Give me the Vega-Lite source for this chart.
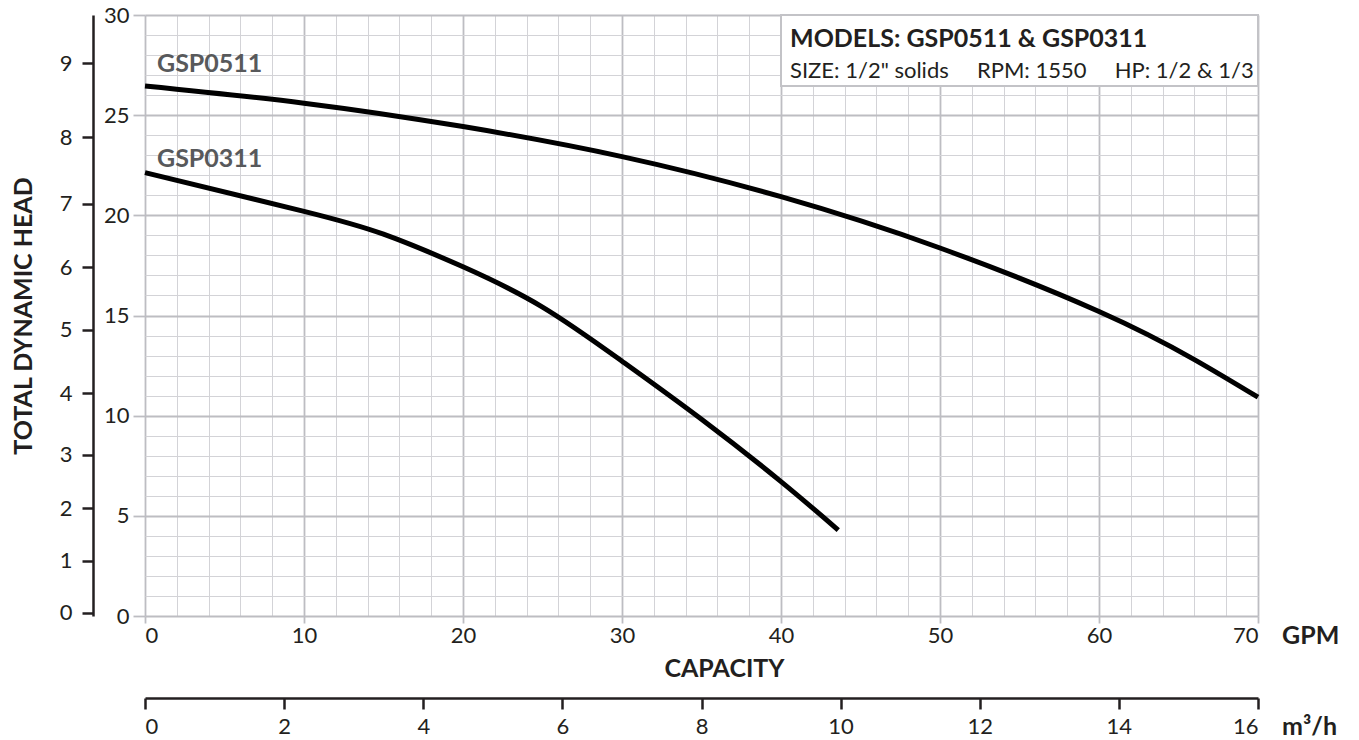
{
  "$schema": "https://vega.github.io/schema/vega-lite/v6.json",
  "width": 1113,
  "height": 601,
  "autosize": {"type": "none"},
  "padding": {"left": 145, "top": 15, "right": 101, "bottom": 124},
  "background": "white",
  "config": {"view": {"stroke": null}, "font": "Lato", "axis": {"labelFont": "Lato", "titleFont": "Lato"}, "text": {"font": "Lato"}},
  "datasets": {
    "curves": [
      {"model": "GSP0511", "gpm": 0, "ft": 26.46},
      {"model": "GSP0511", "gpm": 10, "ft": 25.6},
      {"model": "GSP0511", "gpm": 20, "ft": 24.43},
      {"model": "GSP0511", "gpm": 30, "ft": 22.93},
      {"model": "GSP0511", "gpm": 40, "ft": 20.93},
      {"model": "GSP0511", "gpm": 50, "ft": 18.37},
      {"model": "GSP0511", "gpm": 60, "ft": 15.2},
      {"model": "GSP0511", "gpm": 66, "ft": 12.8},
      {"model": "GSP0511", "gpm": 70, "ft": 10.92},
      {"model": "GSP0311", "gpm": 0, "ft": 22.13},
      {"model": "GSP0311", "gpm": 10, "ft": 20.2},
      {"model": "GSP0311", "gpm": 15, "ft": 19.06},
      {"model": "GSP0311", "gpm": 20, "ft": 17.43},
      {"model": "GSP0311", "gpm": 25, "ft": 15.42},
      {"model": "GSP0311", "gpm": 30, "ft": 12.72},
      {"model": "GSP0311", "gpm": 35, "ft": 9.82},
      {"model": "GSP0311", "gpm": 40, "ft": 6.71},
      {"model": "GSP0311", "gpm": 43.6, "ft": 4.29}
    ]
  },
  "layer": [
    {
      "layer": [
        {
          "data": {"name": "curves"},
          "mark": {"type": "line", "interpolate": "natural", "strokeWidth": 5, "color": "#000000", "strokeCap": "butt"},
          "encoding": {
            "x": {
              "field": "gpm", "type": "quantitative",
              "scale": {"domain": [0, 70], "nice": false, "zero": false},
              "axis": {
                "values": [0,2,4,6,8,10,12,14,16,18,20,22,24,26,28,30,32,34,36,38,40,42,44,46,48,50,52,54,56,58,60,62,64,66,68,70],
                "tickCount": 200,
                "format": "d",
                "grid": true,
                "gridColor": {"condition": {"test": "datum.value % 10 === 0", "value": "#bdbdc2"}, "value": "#d3d3d7"},
                "gridWidth": {"condition": {"test": "datum.value % 10 === 0", "value": 1.8}, "value": 1},
                "domain": false,
                "tickColor": {"condition": {"test": "datum.value % 10 === 0", "value": "#bdbdc2"}, "value": "rgba(0,0,0,0)"},
                "tickSize": 7,
                "tickWidth": 1.8,
                "labelExpr": "datum.value % 10 === 0 ? datum.label : ''",
                "labelOverlap": false,
                "labelFontSize": 22,
                "labelColor": "#231f20",
                "labelPadding": 2,
                "title": "CAPACITY",
                "titleFontSize": 25,
                "titleFontWeight": "bold",
                "titleColor": "#231f20",
                "titleX": 579,
                "titleY": 52,
                "titleBaseline": "middle",
                "titleAlign": "center"
              }
            },
            "y": {
              "field": "ft", "type": "quantitative",
              "scale": {"domain": [0, 30], "nice": false, "zero": false},
              "axis": {
                "values": [0,1,2,3,4,5,6,7,8,9,10,11,12,13,14,15,16,17,18,19,20,21,22,23,24,25,26,27,28,29,30],
                "tickCount": 200,
                "format": "d",
                "grid": true,
                "gridColor": {"condition": {"test": "datum.value % 5 === 0", "value": "#bdbdc2"}, "value": "#d3d3d7"},
                "gridWidth": {"condition": {"test": "datum.value % 5 === 0", "value": 1.8}, "value": 1},
                "domain": false,
                "tickColor": {"condition": {"test": "datum.value % 5 === 0", "value": "#bdbdc2"}, "value": "rgba(0,0,0,0)"},
                "tickSize": 12,
                "tickWidth": 1.8,
                "labelExpr": "datum.value % 5 === 0 ? datum.label : ''",
                "labelOverlap": false,
                "labelFontSize": 22,
                "labelColor": "#231f20",
                "labelPadding": 4,
                "title": null
              }
            },
            "detail": {"field": "model"}
          }
        },
        {
          "data": {"values": [{"box": "models"}]},
          "mark": {"type": "rect", "fill": "white", "stroke": "#c3c3c7", "strokeWidth": 2},
          "encoding": {
            "x": {"datum": 40, "type": "quantitative"},
            "x2": {"datum": 70},
            "y": {"datum": 26.45, "type": "quantitative"},
            "y2": {"datum": 30}
          }
        },
        {
          "data": {"values": [{"t": "MODELS: GSP0511 & GSP0311"}]},
          "mark": {"type": "text", "align": "left", "baseline": "alphabetic", "dx": 9, "fontSize": 25, "fontWeight": "bold", "color": "#231f20"},
          "encoding": {
            "x": {"datum": 40, "type": "quantitative"},
            "y": {"datum": 28.4, "type": "quantitative"},
            "text": {"field": "t"}
          }
        },
        {
          "data": {"values": [{"t": "SIZE: 1/2\" solids\u00a0\u00a0\u00a0\u00a0\u00a0RPM: 1550\u00a0\u00a0\u00a0\u00a0\u00a0HP: 1/2 & 1/3"}]},
          "mark": {"type": "text", "align": "left", "baseline": "alphabetic", "dx": 9, "fontSize": 22, "color": "#231f20"},
          "encoding": {
            "x": {"datum": 40, "type": "quantitative"},
            "y": {"datum": 26.86, "type": "quantitative"},
            "text": {"field": "t"}
          }
        },
        {
          "data": {"values": [{"t": "GSP0511", "pos": 27.16}, {"t": "GSP0311", "pos": 22.42}]},
          "mark": {"type": "text", "align": "left", "baseline": "alphabetic", "dx": 12, "fontSize": 25, "fontWeight": "bold", "color": "#58595b"},
          "encoding": {
            "x": {"datum": 0, "type": "quantitative"},
            "y": {"field": "pos", "type": "quantitative"},
            "text": {"field": "t"}
          }
        },
        {
          "data": {"values": [{"t": "GPM", "off": 20}, {"t": "m³/h", "off": 111}]},
          "mark": {"type": "text", "align": "left", "baseline": "middle", "dx": 24, "fontSize": 25, "fontWeight": "bold", "color": "#231f20"},
          "encoding": {
            "x": {"datum": 70, "type": "quantitative"},
            "y": {"datum": 0, "type": "quantitative"},
            "yOffset": {"field": "off", "type": "quantitative", "scale": null},
            "text": {"field": "t"}
          }
        }
      ]
    },
    {
      "data": {"values": [{"m": 0}]},
      "mark": {"type": "point", "opacity": 0},
      "encoding": {
        "y": {
          "field": "m", "type": "quantitative",
          "scale": {"domain": [0, 30], "nice": false, "zero": false},
          "axis": {
            "orient": "left",
            "offset": 52,
            "values": [0.15, 2.75, 5.39, 8.04, 11.13, 14.28, 17.42, 20.57, 23.91, 27.6],
            "tickCount": 200,
            "labelExpr": "'' + indexof([0.15, 2.75, 5.39, 8.04, 11.13, 14.28, 17.42, 20.57, 23.91, 27.6], datum.value)",
            "grid": false,
            "domainColor": "#231f20",
            "domainWidth": 2.5,
            "tickColor": "#231f20",
            "tickWidth": 2.5,
            "tickSize": 11,
            "labelPadding": 10,
            "labelFontSize": 22,
            "labelColor": "#231f20",
            "labelOverlap": false,
            "title": "TOTAL DYNAMIC HEAD",
            "titleFontSize": 25,
            "titleFontWeight": "bold",
            "titleColor": "#231f20",
            "titlePadding": 23
          }
        }
      }
    },
    {
      "data": {"values": [{"q": 0}]},
      "mark": {"type": "point", "opacity": 0},
      "encoding": {
        "x": {
          "field": "q", "type": "quantitative",
          "scale": {"domain": [0, 16], "nice": false, "zero": false},
          "axis": {
            "orient": "bottom",
            "offset": 82,
            "values": [0, 2, 4, 6, 8, 10, 12, 14, 16],
            "tickCount": 200,
            "format": "d",
            "grid": false,
            "domainColor": "#231f20",
            "domainWidth": 2.5,
            "tickColor": "#231f20",
            "tickWidth": 2.5,
            "tickSize": 11,
            "labelPadding": 7,
            "labelFontSize": 22,
            "labelColor": "#231f20",
            "labelOverlap": false,
            "title": null
          }
        }
      }
    }
  ],
  "resolve": {"scale": {"x": "independent", "y": "independent"}, "axis": {"x": "independent", "y": "independent"}}
}
